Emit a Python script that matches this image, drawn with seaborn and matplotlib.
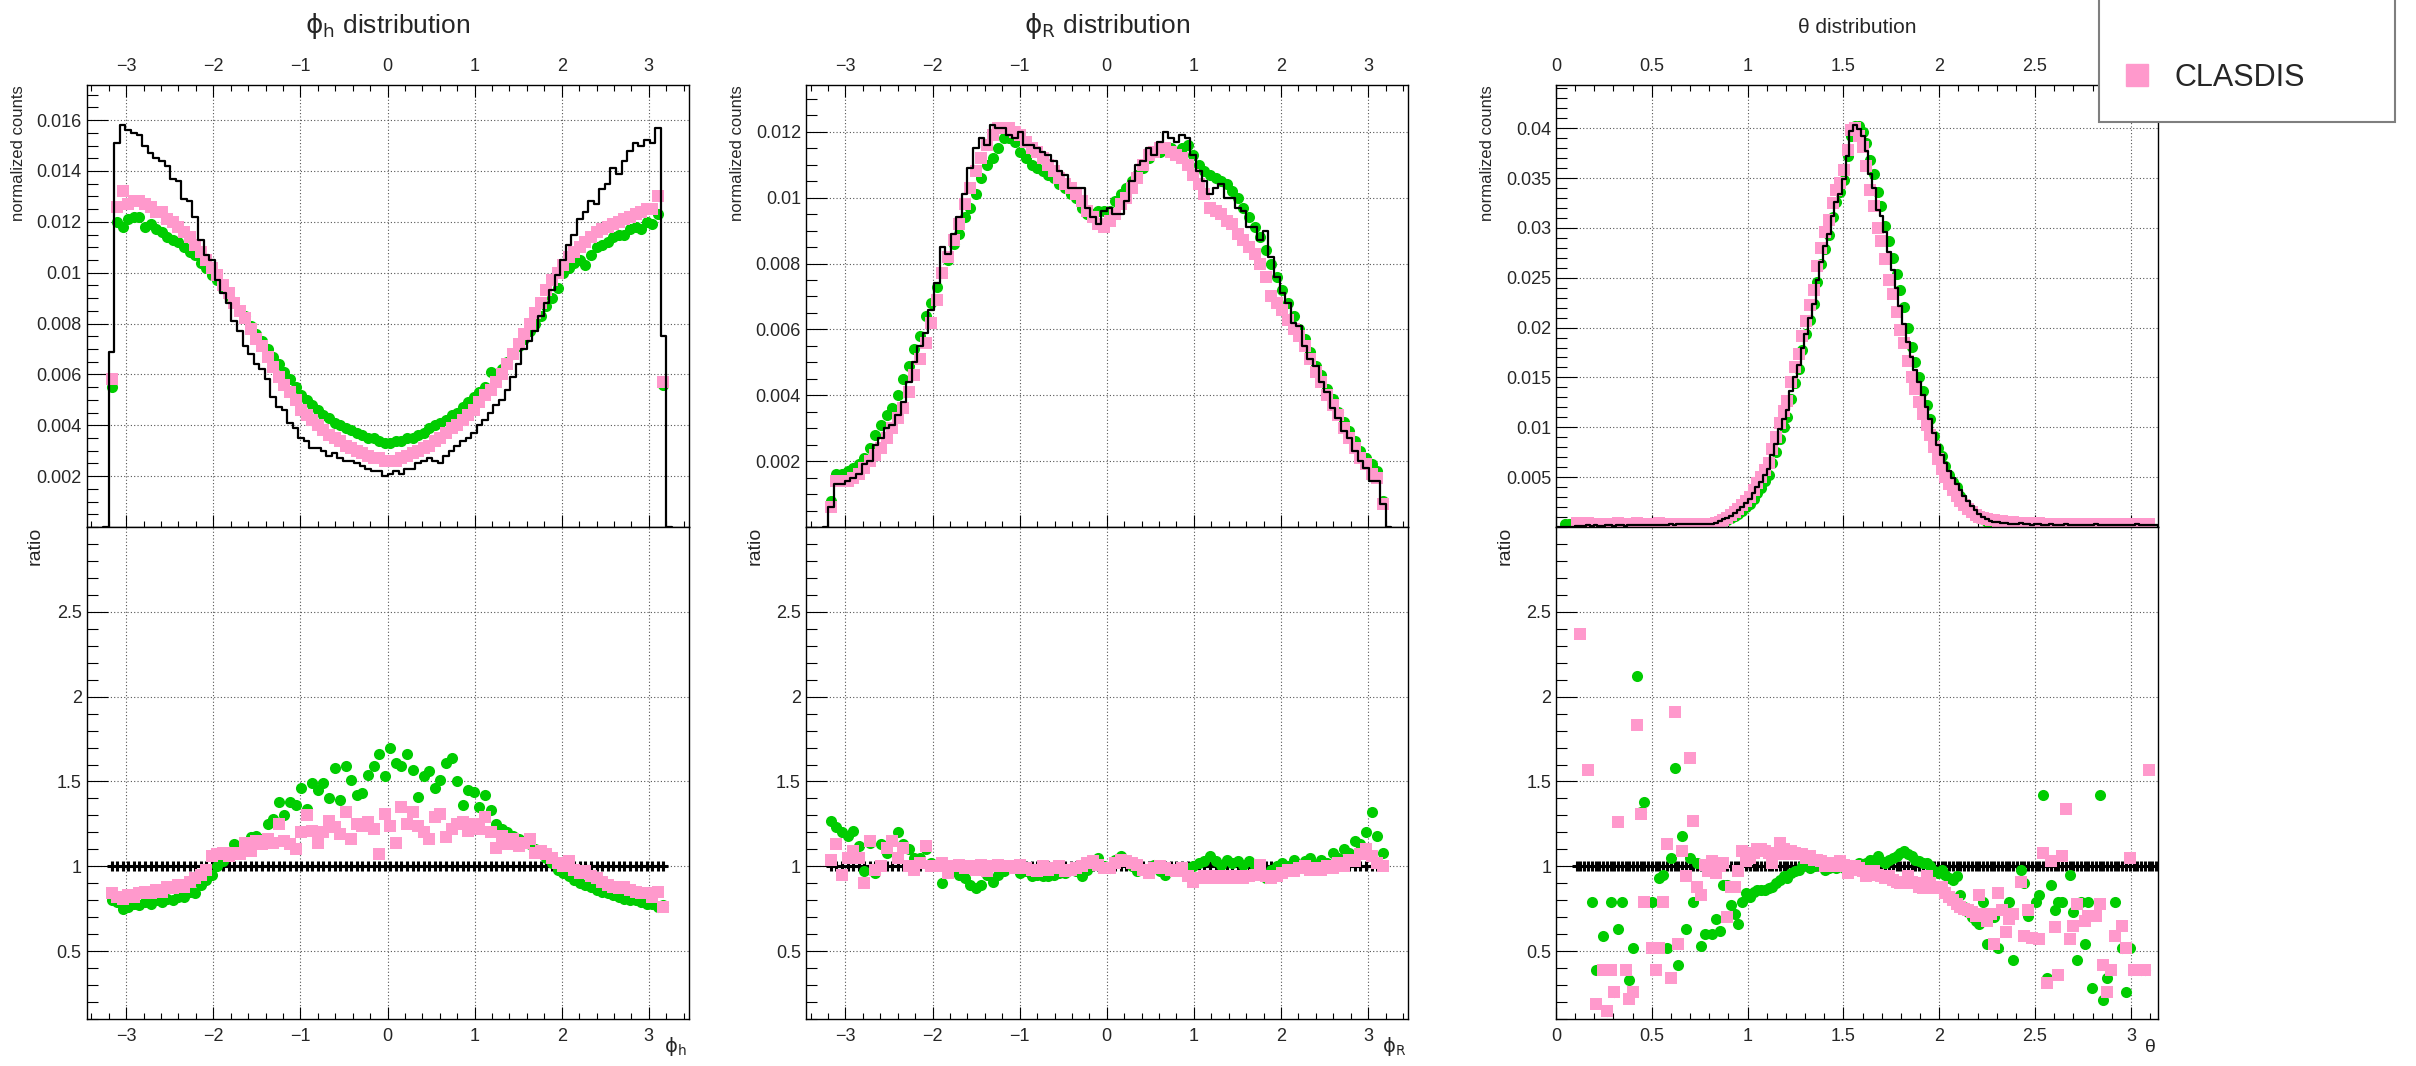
"""Recreate the phi_h / phi_R / theta comparison panels (top: normalized counts, bottom: ratio)."""

import matplotlib

matplotlib.use("Agg")
import matplotlib.pyplot as plt
import numpy as np
import pandas as pd
import seaborn as sns
from matplotlib.lines import Line2D
from matplotlib.patches import Rectangle
from matplotlib.ticker import FixedLocator, FuncFormatter, MultipleLocator

NA = np.nan
GREEN = "#00cc00"
PINK = "#ff99cc"

# ---------------------------------------------------------------- phi_h (100 bins, -3.2..3.2)
PHI_H_REF = [
    0.0069, 0.0151, 0.0158, 0.0156, 0.0155, 0.0154, 0.0150, 0.0147, 0.0145, 0.0144,
    0.0142, 0.0137, 0.0136, 0.0129, 0.0128, 0.0122, 0.0113, 0.0107, 0.0105, 0.0097,
    0.0092, 0.0088, 0.0081, 0.0077, 0.0071, 0.0068, 0.0064, 0.0062, 0.0058, 0.0051,
    0.0047, 0.0046, 0.0041, 0.0039, 0.0035, 0.0034, 0.0031, 0.0031, 0.0030, 0.0028,
    0.0029, 0.0027, 0.0026, 0.0026, 0.0025, 0.0024, 0.0023, 0.0022, 0.0022, 0.0020,
    0.0021, 0.0022, 0.0021, 0.0023, 0.0023, 0.0025, 0.0026, 0.0027, 0.0026, 0.0025,
    0.0028, 0.0030, 0.0032, 0.0034, 0.0035, 0.0037, 0.0040, 0.0042, 0.0045, 0.0048,
    0.0050, 0.0054, 0.0059, 0.0064, 0.0070, 0.0073, 0.0077, 0.0083, 0.0088, 0.0093,
    0.0099, 0.0105, 0.0111, 0.0115, 0.0121, 0.0124, 0.0128, 0.0127, 0.0133, 0.0135,
    0.0141, 0.0139, 0.0144, 0.0148, 0.0151, 0.0150, 0.0152, 0.0151, 0.0157, 0.0075,
]
PHI_H_GREEN = [
    0.0055, 0.0120, 0.0118, 0.0121, 0.0122, 0.0122, 0.0118, 0.0119, 0.0117, 0.0116,
    0.0114, 0.0113, 0.0112, 0.0110, 0.0108, 0.0107, 0.0104, 0.0102, 0.0099, 0.0097,
    0.0094, 0.0091, 0.0088, 0.0085, 0.0083, 0.0079, 0.0076, 0.0073, 0.0070, 0.0067,
    0.0064, 0.0061, 0.0058, 0.0055, 0.0052, 0.0050, 0.0048, 0.0046, 0.0044, 0.0043,
    0.0041, 0.0040, 0.0039, 0.0038, 0.0037, 0.0036, 0.0035, 0.0035, 0.0034, 0.0033,
    0.0033, 0.0034, 0.0034, 0.0035, 0.0035, 0.0036, 0.0037, 0.0039, 0.0040, 0.0041,
    0.0042, 0.0044, 0.0045, 0.0047, 0.0049, 0.0051, 0.0053, 0.0055, 0.0061, 0.0060,
    0.0062, 0.0065, 0.0068, 0.0071, 0.0074, 0.0077, 0.0080, 0.0083, 0.0087, 0.0090,
    0.0094, 0.0100, 0.0102, 0.0104, 0.0105, 0.0103, 0.0107, 0.0110, 0.0111, 0.0112,
    0.0114, 0.0115, 0.0115, 0.0117, 0.0118, 0.0117, 0.0120, 0.0119, 0.0123, 0.0056,
]
PHI_H_PINK = [
    0.0058, 0.0126, 0.0132, 0.0127, 0.0128, 0.0128, 0.0127, 0.0126, 0.0124, 0.0124,
    0.0121, 0.0120, 0.0118, 0.0116, 0.0114, 0.0111, 0.0108, 0.0105, 0.0102, 0.0099,
    0.0095, 0.0092, 0.0088, 0.0085, 0.0082, 0.0078, 0.0074, 0.0071, 0.0067, 0.0063,
    0.0059, 0.0056, 0.0053, 0.0050, 0.0046, 0.0044, 0.0042, 0.0040, 0.0038, 0.0036,
    0.0035, 0.0034, 0.0032, 0.0031, 0.0030, 0.0029, 0.0028, 0.0027, 0.0027, 0.0026,
    0.0026, 0.0026, 0.0027, 0.0028, 0.0029, 0.0030, 0.0031, 0.0032, 0.0034, 0.0035,
    0.0037, 0.0039, 0.0040, 0.0042, 0.0044, 0.0046, 0.0049, 0.0052, 0.0054, 0.0057,
    0.0060, 0.0064, 0.0068, 0.0072, 0.0076, 0.0080, 0.0084, 0.0088, 0.0093, 0.0097,
    0.0100, 0.0103, 0.0106, 0.0108, 0.0110, 0.0112, 0.0114, 0.0116, 0.0117, 0.0118,
    0.0119, 0.0120, 0.0121, 0.0122, 0.0123, 0.0124, 0.0125, 0.0125, 0.0130, 0.0057,
]
PHI_H_GREEN_RATIO = [
    0.80, 0.79, 0.75, 0.76, 0.78, 0.77, 0.79, 0.78, 0.80, 0.79,
    0.81, 0.80, 0.82, 0.82, 0.85, 0.84, 0.89, 0.92, 0.95, 1.00,
    1.03, 1.07, 1.13, 1.10, 1.12, 1.17, 1.18, 1.16, 1.25, 1.28,
    1.38, 1.30, 1.38, 1.36, 1.46, 1.34, 1.49, 1.45, 1.49, 1.40,
    1.58, 1.39, 1.59, 1.51, 1.42, 1.43, 1.54, 1.59, 1.66, 1.53,
    1.70, 1.61, 1.59, 1.66, 1.57, 1.41, 1.53, 1.56, 1.46, 1.51,
    1.61, 1.64, 1.50, 1.36, 1.45, 1.44, 1.35, 1.42, 1.33, 1.25,
    1.22, 1.20, 1.18, 1.16, 1.15, 1.13, 1.10, 1.08, 1.05, 1.02,
    0.98, 0.96, 0.94, 0.92, 0.90, 0.89, 0.88, 0.86, 0.85, 0.84,
    0.83, 0.82, 0.81, 0.80, 0.80, 0.79, 0.78, 0.78, 0.76, 0.77,
]
PHI_H_PINK_RATIO = [
    0.84, 0.82, 0.81, 0.83, 0.82, 0.84, 0.85, 0.84, 0.86, 0.85,
    0.88, 0.87, 0.89, 0.88, 0.91, 0.93, 0.95, 0.98, 1.06, 1.07,
    1.08, 1.06, 1.08, 1.07, 1.14, 1.09, 1.15, 1.13, 1.16, 1.14,
    1.25, 1.15, 1.13, 1.10, 1.20, 1.30, 1.21, 1.14, 1.20, 1.27,
    1.23, 1.19, 1.32, 1.16, 1.25, 1.24, 1.26, 1.22, 1.07, 1.31,
    1.24, 1.14, 1.35, 1.25, 1.32, 1.24, 1.20, 1.16, 1.29, 1.31,
    1.17, 1.22, 1.25, 1.26, 1.21, 1.25, 1.22, 1.29, 1.20, 1.11,
    1.18, 1.13, 1.16, 1.12, 1.14, 1.16, 1.08, 1.09, 1.07, 1.05,
    1.02, 1.00, 1.03, 0.98, 0.96, 0.97, 0.94, 0.93, 0.91, 0.89,
    0.88, 0.87, 0.88, 0.86, 0.85, 0.84, 0.84, 0.82, 0.85, 0.76,
]

# ---------------------------------------------------------------- phi_R (100 bins, -3.2..3.2)
PHI_R_REF = [
    0.0006, 0.0013, 0.0013, 0.0014, 0.0015, 0.0016, 0.0019, 0.0020, 0.0025, 0.0027,
    0.0030, 0.0031, 0.0034, 0.0038, 0.0044, 0.0050, 0.0055, 0.0059, 0.0066, 0.0074,
    0.0085, 0.0083, 0.0089, 0.0094, 0.0101, 0.0109, 0.0115, 0.0118, 0.0116, 0.0122,
    0.0121, 0.0121, 0.0119, 0.0118, 0.0120, 0.0116, 0.0116, 0.0115, 0.0114, 0.0113,
    0.0111, 0.0108, 0.0107, 0.0103, 0.0103, 0.0103, 0.0097, 0.0094, 0.0092, 0.0096,
    0.0097, 0.0095, 0.0095, 0.0099, 0.0105, 0.0110, 0.0111, 0.0115, 0.0113, 0.0117,
    0.0120, 0.0118, 0.0117, 0.0119, 0.0118, 0.0113, 0.0108, 0.0105, 0.0101, 0.0103,
    0.0104, 0.0100, 0.0100, 0.0097, 0.0096, 0.0091, 0.0091, 0.0087, 0.0090, 0.0082,
    0.0076, 0.0071, 0.0068, 0.0062, 0.0061, 0.0055, 0.0051, 0.0049, 0.0044, 0.0041,
    0.0036, 0.0033, 0.0029, 0.0027, 0.0023, 0.0020, 0.0018, 0.0014, 0.0014, 0.0007,
]
PHI_R_GREEN = [
    0.0008, 0.0016, 0.0016, 0.0017, 0.0018, 0.0019, 0.0021, 0.0024, 0.0028, 0.0031,
    0.0034, 0.0036, 0.0040, 0.0045, 0.0049, 0.0054, 0.0058, 0.0064, 0.0068, 0.0073,
    0.0077, 0.0081, 0.0086, 0.0089, 0.0094, 0.0097, 0.0101, 0.0106, 0.0110, 0.0112,
    0.0115, 0.0118, 0.0118, 0.0117, 0.0114, 0.0112, 0.0110, 0.0109, 0.0108, 0.0107,
    0.0106, 0.0104, 0.0103, 0.0101, 0.0100, 0.0097, 0.0095, 0.0095, 0.0096, 0.0096,
    0.0096, 0.0099, 0.0101, 0.0103, 0.0105, 0.0107, 0.0109, 0.0112, 0.0114, 0.0114,
    0.0115, 0.0115, 0.0114, 0.0115, 0.0116, 0.0113, 0.0110, 0.0108, 0.0107, 0.0106,
    0.0105, 0.0104, 0.0102, 0.0100, 0.0097, 0.0094, 0.0091, 0.0088, 0.0084, 0.0080,
    0.0076, 0.0072, 0.0068, 0.0064, 0.0060, 0.0057, 0.0053, 0.0049, 0.0046, 0.0042,
    0.0039, 0.0035, 0.0032, 0.0029, 0.0026, 0.0023, 0.0021, 0.0019, 0.0017, 0.0008,
]
PHI_R_PINK = [
    0.0006, 0.0014, 0.0014, 0.0014, 0.0015, 0.0016, 0.0018, 0.0020, 0.0022, 0.0024,
    0.0027, 0.0030, 0.0033, 0.0036, 0.0041, 0.0046, 0.0051, 0.0056, 0.0062, 0.0069,
    0.0077, 0.0082, 0.0087, 0.0092, 0.0098, 0.0103, 0.0108, 0.0112, 0.0116, 0.0119,
    0.0121, 0.0121, 0.0121, 0.0120, 0.0119, 0.0117, 0.0115, 0.0114, 0.0112, 0.0110,
    0.0108, 0.0106, 0.0104, 0.0103, 0.0101, 0.0099, 0.0096, 0.0094, 0.0092, 0.0091,
    0.0093, 0.0095, 0.0098, 0.0100, 0.0103, 0.0106, 0.0110, 0.0113, 0.0114, 0.0115,
    0.0115, 0.0114, 0.0113, 0.0112, 0.0110, 0.0107, 0.0104, 0.0101, 0.0097, 0.0096,
    0.0095, 0.0093, 0.0092, 0.0089, 0.0087, 0.0085, 0.0083, 0.0080, 0.0076, 0.0070,
    0.0068, 0.0066, 0.0063, 0.0060, 0.0058, 0.0055, 0.0051, 0.0047, 0.0044, 0.0040,
    0.0037, 0.0034, 0.0030, 0.0027, 0.0024, 0.0021, 0.0019, 0.0016, 0.0015, 0.0007,
]
PHI_R_GREEN_RATIO = [
    1.27, 1.23, 1.20, 1.18, 1.21, 1.12, 0.97, 1.14, 0.96, 1.13,
    1.08, 1.15, 1.20, 1.13, 1.10, 1.05, 1.05, 1.10, 1.02, 1.00,
    0.90, 0.98, 0.97, 0.95, 0.93, 0.89, 0.87, 0.89, 0.95, 0.91,
    0.95, 0.97, 0.99, 1.00, 0.96, 0.97, 0.94, 0.95, 0.94, 0.94,
    0.95, 0.96, 0.96, 0.98, 0.97, 0.94, 0.98, 1.01, 1.05, 1.00,
    0.99, 1.04, 1.06, 1.04, 1.00, 0.97, 0.98, 0.97, 1.01, 0.97,
    0.95, 0.97, 0.98, 0.97, 0.99, 1.00, 1.02, 1.03, 1.06, 1.03,
    1.01, 1.04, 1.02, 1.03, 1.01, 1.03, 1.00, 1.01, 0.93, 0.98,
    1.00, 1.02, 1.00, 1.04, 0.99, 1.03, 1.05, 1.01, 1.04, 1.02,
    1.08, 1.05, 1.10, 1.08, 1.15, 1.13, 1.20, 1.32, 1.18, 1.08,
]
PHI_R_PINK_RATIO = [
    1.04, 1.13, 0.95, 1.05, 1.09, 1.05, 0.90, 1.15, 0.98, 1.00,
    1.11, 1.15, 1.05, 1.11, 1.00, 0.98, 1.02, 1.12, 1.00, 1.00,
    1.02, 0.96, 1.00, 1.01, 0.99, 1.00, 0.98, 1.01, 0.97, 1.00,
    1.01, 1.00, 1.00, 0.99, 1.01, 0.99, 0.98, 0.97, 1.00, 0.98,
    0.99, 1.00, 0.97, 0.98, 0.99, 1.00, 1.02, 1.03, 1.01, 0.99,
    0.99, 1.02, 1.04, 1.03, 1.02, 1.01, 0.98, 0.96, 0.99, 1.00,
    0.99, 0.98, 0.97, 0.99, 0.94, 0.91, 0.93, 0.94, 0.93, 0.94,
    0.93, 0.94, 0.93, 0.94, 0.93, 0.94, 0.95, 1.01, 0.94, 0.93,
    0.94, 0.96, 0.98, 0.97, 0.99, 1.00, 0.98, 0.99, 0.98, 1.00,
    0.99, 1.02, 1.00, 1.04, 1.03, 1.07, 1.10, 1.06, 1.02, 1.00,
]

# ---------------------------------------------------------------- theta (160 bins, 0..pi)
THETA_REF = [
    0, 0, 0, 0, 0, 0.0001, 0.0001, 0.0001, 0.0002, 0.0001,
    0.0002, 0.0001, 0.0001, 0.0002, 0.0002, 0.0001, 0.0002, 0.0002, 0.0001, 0.0002,
    0.0002, 0.0002, 0.0002, 0.0002, 0.0002, 0.0002, 0.0002, 0.0002, 0.0002, 0.0002,
    0.0003, 0.0002, 0.0003, 0.0003, 0.0003, 0.0003, 0.0003, 0.0003, 0.0003, 0.0003,
    0.0003, 0.0003, 0.0004, 0.0006, 0.0008, 0.0009, 0.0011, 0.0014, 0.0017, 0.0020,
    0.0024, 0.0028, 0.0034, 0.0040, 0.0045, 0.0052, 0.0058, 0.0072, 0.0083, 0.0098,
    0.0108, 0.0117, 0.0136, 0.0150, 0.0162, 0.0180, 0.0194, 0.0210, 0.0224, 0.0248,
    0.0266, 0.0282, 0.0294, 0.0312, 0.0326, 0.0334, 0.0349, 0.0372, 0.0397, 0.0403,
    0.0399, 0.0392, 0.0377, 0.0354, 0.0340, 0.0318, 0.0312, 0.0296, 0.0276, 0.0258,
    0.0240, 0.0222, 0.0204, 0.0186, 0.0170, 0.0157, 0.0145, 0.0132, 0.0120, 0.0108,
    0.0094, 0.0082, 0.0072, 0.0064, 0.0056, 0.0049, 0.0043, 0.0037, 0.0031, 0.0026,
    0.0021, 0.0017, 0.0013, 0.0010, 0.0008, 0.0006, 0.0005, 0.0005, 0.0004, 0.0004,
    0.0003, 0.0003, 0.0003, 0.0004, 0.0003, 0.0003, 0.0002, 0.0003, 0.0003, 0.0002,
    0.0002, 0.0003, 0.0002, 0.0002, 0.0002, 0.0003, 0.0002, 0.0002, 0.0002, 0.0002,
    0.0002, 0.0002, 0.0002, 0.0003, 0.0002, 0.0002, 0.0002, 0.0002, 0.0002, 0.0002,
    0.0002, 0.0002, 0.0002, 0.0002, 0.0003, 0.0002, 0.0002, 0.0002, 0.0002, 0.0002,
]
THETA_GREEN = [
    NA, NA, 0.0003, 0.0003, 0.0003, 0.0003, 0.0002, 0.0002, 0.0002, 0.0002,
    0.0002, 0.0002, 0.0002, 0.0002, 0.0002, 0.0002, 0.0002, 0.0002, 0.0002, 0.0002,
    0.0002, 0.0002, 0.0002, 0.0002, 0.0002, 0.0002, 0.0002, 0.0002, 0.0002, 0.0002,
    0.0002, 0.0002, 0.0002, 0.0003, 0.0002, 0.0003, 0.0003, 0.0003, 0.0003, 0.0003,
    0.0003, 0.0003, 0.0003, 0.0004, 0.0006, 0.0007, 0.0009, 0.0011, 0.0013, 0.0016,
    0.0020, 0.0023, 0.0028, 0.0034, 0.0039, 0.0046, 0.0052, 0.0064, 0.0075, 0.0088,
    0.0100, 0.0110, 0.0128, 0.0144, 0.0158, 0.0178, 0.0194, 0.0208, 0.0224, 0.0246,
    0.0264, 0.0279, 0.0293, 0.0311, 0.0326, 0.0336, 0.0348, 0.0372, 0.0392, 0.0402,
    0.0402, 0.0396, 0.0385, 0.0368, 0.0354, 0.0336, 0.0322, 0.0302, 0.0287, 0.0270,
    0.0254, 0.0238, 0.0221, 0.0200, 0.0181, 0.0165, 0.0150, 0.0136, 0.0122, 0.0108,
    0.0091, 0.0079, 0.0071, 0.0061, 0.0052, 0.0045, 0.0040, 0.0031, 0.0024, 0.0019,
    0.0015, 0.0012, 0.0009, 0.0008, 0.0005, 0.0004, 0.0004, 0.0003, 0.0003, 0.0003,
    0.0003, 0.0002, 0.0002, 0.0003, 0.0003, 0.0002, 0.0002, 0.0002, 0.0002, 0.0002,
    0.0002, 0.0002, 0.0002, 0.0002, 0.0002, 0.0002, 0.0002, 0.0002, 0.0002, 0.0002,
    0.0002, 0.0002, 0.0002, 0.0002, 0.0002, 0.0002, 0.0002, 0.0002, 0.0002, 0.0002,
    0.0002, 0.0002, 0.0002, 0.0002, 0.0002, 0.0002, 0.0002, NA, NA, NA,
]
THETA_PINK = [
    NA, NA, NA, NA, NA, 0.0004, 0.0004, 0.0003, 0.0004, 0.0003,
    0.0003, 0.0003, 0.0003, 0.0003, 0.0003, 0.0003, 0.0004, 0.0003, 0.0003, 0.0003,
    0.0003, 0.0004, 0.0003, 0.0003, 0.0003, 0.0003, 0.0003, 0.0004, 0.0003, 0.0003,
    0.0003, 0.0003, 0.0003, 0.0003, 0.0003, 0.0003, 0.0003, 0.0003, 0.0003, 0.0003,
    0.0003, 0.0003, 0.0004, 0.0005, 0.0007, 0.0009, 0.0012, 0.0015, 0.0018, 0.0022,
    0.0026, 0.0030, 0.0037, 0.0044, 0.0050, 0.0057, 0.0064, 0.0078, 0.0090, 0.0104,
    0.0116, 0.0126, 0.0145, 0.0160, 0.0174, 0.0192, 0.0207, 0.0223, 0.0238, 0.0262,
    0.0280, 0.0296, 0.0308, 0.0325, 0.0338, 0.0345, 0.0358, 0.0378, 0.0398, 0.0400,
    0.0392, 0.0381, 0.0362, 0.0338, 0.0322, 0.0300, 0.0287, 0.0269, 0.0248, 0.0234,
    0.0216, 0.0198, 0.0185, 0.0166, 0.0150, 0.0138, 0.0125, 0.0113, 0.0102, 0.0092,
    0.0080, 0.0068, 0.0058, 0.0050, 0.0043, 0.0037, 0.0031, 0.0026, 0.0022, 0.0018,
    0.0015, 0.0012, 0.0010, 0.0009, 0.0008, 0.0007, 0.0007, 0.0006, 0.0006, 0.0005,
    0.0005, 0.0005, 0.0004, 0.0004, 0.0004, 0.0004, 0.0004, 0.0003, 0.0004, 0.0003,
    0.0003, 0.0003, 0.0003, 0.0003, 0.0003, 0.0003, 0.0003, 0.0003, 0.0003, 0.0003,
    0.0003, 0.0003, 0.0003, 0.0003, 0.0003, 0.0003, 0.0003, 0.0003, 0.0003, 0.0003,
    0.0003, 0.0003, 0.0003, 0.0003, 0.0003, 0.0003, 0.0003, 0.0003, NA, NA,
]
THETA_GREEN_RATIO = [
    NA, NA, NA, NA, NA, NA, NA, NA, NA, 0.79,
    0.39, NA, 0.59, 0.15, 0.79, 0.26, 0.63, 0.79, 0.39, 0.33,
    0.52, 2.12, 1.32, 1.38, NA, 0.79, NA, 0.93, 0.95, 0.52,
    1.05, 1.58, 0.42, 1.18, 0.63, 1.05, 0.79, 1.02, 0.53, 0.60,
    NA, 0.60, 0.69, 0.62, 0.89, 0.89, 0.77, 0.72, 0.66, 0.79,
    0.84, 0.82, 0.85, 0.86, 0.86, 0.86, 0.87, 0.88, 0.90, 0.92,
    0.94, 0.93, 0.96, 0.97, 0.98, 1.00, 1.01, 0.99, 1.00, 1.01,
    1.00, 0.98, 0.99, 1.00, 0.99, 1.00, 0.99, 1.00, 1.01, 1.01,
    1.02, 1.01, 1.02, 1.04, 1.04, 1.06, 1.03, 1.02, 1.04, 1.05,
    1.06, 1.08, 1.09, 1.07, 1.06, 1.04, 1.03, 1.02, 1.02, 1.00,
    0.97, 0.96, 0.98, 0.95, 0.93, 0.92, 0.94, 0.83, 0.76, 0.73,
    0.70, 0.68, 0.66, 0.79, 0.54, NA, 0.70, 0.52, 0.75, NA,
    0.79, 0.45, NA, 0.98, 0.90, 0.71, NA, 0.79, 0.83, 1.42,
    0.34, 0.89, 0.74, 0.79, 0.79, NA, 0.95, 0.73, 0.45, 0.79,
    0.54, 0.79, 0.28, NA, 1.42, 0.21, 0.34, NA, 0.79, NA,
    0.52, 0.26, 0.52, NA, NA, 0.39, 0.39, NA, NA, NA,
]
THETA_PINK_RATIO = [
    NA, NA, NA, NA, NA, NA, 2.37, NA, 1.57, NA,
    0.19, NA, 0.39, 0.15, 0.39, 0.26, 1.26, NA, 0.39, 0.22,
    0.26, 1.83, 1.31, 0.79, NA, 0.52, 0.39, 0.52, 0.79, 1.13,
    0.34, 1.91, 0.54, 1.09, 0.94, 1.64, 1.27, 0.88, 0.83, 1.01,
    0.97, 1.03, 0.96, 1.00, 1.02, 0.70, 0.88, 0.88, 0.97, 1.09,
    1.03, 1.05, 1.08, 1.10, 1.10, 1.09, 1.08, 1.02, 1.07, 1.14,
    1.10, 1.07, 1.09, 1.08, 1.07, 1.07, 1.05, 1.06, 1.04, 1.04,
    1.03, 1.00, 1.02, 1.01, 1.00, 1.03, 1.01, 0.96, 0.98, 1.00,
    0.99, 0.97, 0.94, 0.96, 0.97, 0.95, 0.94, 0.93, 0.94, 0.92,
    0.91, 0.90, 0.90, 0.94, 0.91, 0.90, 0.88, 0.87, 0.94, 0.90,
    0.87, 0.88, 0.88, 0.84, 0.82, 0.80, 0.78, 0.76, 0.75, 0.74,
    0.73, 0.71, 0.83, 0.72, 0.68, 0.72, 0.54, 0.84, 0.74, 0.61,
    0.69, 0.72, NA, 0.91, 0.59, 0.74, 0.58, NA, 0.57, 1.08,
    0.31, 1.03, 0.64, 0.36, 1.06, 1.34, 0.57, 0.65, 0.78, NA,
    0.68, 0.71, NA, 0.71, 0.78, 0.42, 0.26, 0.39, 0.59, NA,
    0.65, 0.52, 1.05, 0.39, 0.39, NA, 0.39, 1.57, NA, NA,
]

PANELS = [
    {
        "title": r"$\mathrm{\phi_{h}}$ distribution", "title_size": 19,
        "xlabel": r"$\mathrm{\phi_{h}}$",
        "range": (-3.2, 3.2, 100), "xlim": (-1.1 * np.pi, 1.1 * np.pi),
        "xmajor": [-3, -2, -1, 0, 1, 2, 3], "xminor": 0.2,
        "ymajor": [0.002, 0.004, 0.006, 0.008, 0.010, 0.012, 0.014, 0.016], "yminor": 0.0005,
        "ref": PHI_H_REF, "green": PHI_H_GREEN, "pink": PHI_H_PINK,
        "green_ratio": PHI_H_GREEN_RATIO, "pink_ratio": PHI_H_PINK_RATIO,
    },
    {
        "title": r"$\mathrm{\phi_{R}}$ distribution", "title_size": 19,
        "xlabel": r"$\mathrm{\phi_{R}}$",
        "range": (-3.2, 3.2, 100), "xlim": (-1.1 * np.pi, 1.1 * np.pi),
        "xmajor": [-3, -2, -1, 0, 1, 2, 3], "xminor": 0.2,
        "ymajor": [0.002, 0.004, 0.006, 0.008, 0.010, 0.012], "yminor": 0.0005,
        "ref": PHI_R_REF, "green": PHI_R_GREEN, "pink": PHI_R_PINK,
        "green_ratio": PHI_R_GREEN_RATIO, "pink_ratio": PHI_R_PINK_RATIO,
    },
    {
        "title": "θ distribution", "title_size": 15, "xlabel": "θ",
        "range": (0.0, np.pi, 160), "xlim": (0.0, np.pi),
        "xmajor": [0, 0.5, 1, 1.5, 2, 2.5, 3], "xminor": 0.1,
        "ymajor": [0.005, 0.010, 0.015, 0.020, 0.025, 0.030, 0.035, 0.040], "yminor": 0.001,
        "ref": THETA_REF, "green": THETA_GREEN, "pink": THETA_PINK,
        "green_ratio": THETA_GREEN_RATIO, "pink_ratio": THETA_PINK_RATIO,
    },
]

RATIO_MAJOR = [0.5, 1.0, 1.5, 2.0, 2.5]

# layout in pixels of the 2416x1066 canvas
FIG_W, FIG_H = 2416, 1066
COL_LEFT = [86.5, 805.8, 1556.0]
COL_WIDTH = 602.0
TOP_Y0, SPLIT_Y, BOTTOM_Y = 85.0, 527.0, 1019.0

CIRCLE_S = 64
SQUARE_S = 64


def fx(px):
    return px / FIG_W


def fy(py):
    return 1.0 - py / FIG_H


def fmt_num(value, _pos=None):
    return f"{value:g}".replace("-", "\u2212")


def style_axes(ax, spec, ymajor, yminor, top_panel):
    ax.xaxis.set_major_locator(FixedLocator(spec["xmajor"]))
    ax.xaxis.set_minor_locator(MultipleLocator(spec["xminor"]))
    ax.yaxis.set_major_locator(FixedLocator(ymajor))
    ax.yaxis.set_minor_locator(MultipleLocator(yminor))
    ax.xaxis.set_major_formatter(FuncFormatter(fmt_num))
    ax.yaxis.set_major_formatter(FuncFormatter(fmt_num))
    ax.tick_params(which="both", direction="in", color="black", labelsize=13)
    ax.tick_params(axis="x", which="major", length=8.5, width=0.8)
    ax.tick_params(axis="x", which="minor", length=4.3, width=0.8)
    ax.tick_params(axis="y", which="major", length=15, width=0.8, pad=3.5)
    ax.tick_params(axis="y", which="minor", length=8, width=0.8)
    ax.tick_params(axis="y", which="both", left=True, right=False)
    if top_panel:
        ax.tick_params(axis="x", which="both", top=True, bottom=True,
                       labeltop=True, labelbottom=False, pad=7)
    else:
        ax.tick_params(axis="x", which="both", top=False, bottom=True,
                       labeltop=False, labelbottom=True, pad=6.5)
    ax.grid(True, which="major", linestyle=(0, (1, 2)), color="#555555", linewidth=0.8)
    ax.set_axisbelow(True)
    for spine in ax.spines.values():
        spine.set_color("black")
        spine.set_linewidth(1.0)
    ax.set_xlabel("")
    ax.set_ylabel("")


def draw_column(fig, left, spec):
    lo, hi, nbins = spec["range"]
    edges = np.linspace(lo, hi, nbins + 1)
    width = edges[1] - edges[0]
    centers = 0.5 * (edges[:-1] + edges[1:])
    padded = [lo - width] + edges.tolist() + [hi + width]

    df = pd.DataFrame({
        "x": centers,
        "ref": np.asarray(spec["ref"], dtype=float),
        "green": np.asarray(spec["green"], dtype=float),
        "pink": np.asarray(spec["pink"], dtype=float),
        "green_ratio": np.asarray(spec["green_ratio"], dtype=float),
        "pink_ratio": np.asarray(spec["pink_ratio"], dtype=float),
    })
    df["ref_ratio"] = np.where(df["ref"] > 0, 1.0, np.nan)

    ax_top = fig.add_axes([fx(left), fy(SPLIT_Y), COL_WIDTH / FIG_W, (SPLIT_Y - TOP_Y0) / FIG_H])
    ax_ratio = fig.add_axes([fx(left), fy(BOTTOM_Y), COL_WIDTH / FIG_W, (BOTTOM_Y - SPLIT_Y) / FIG_H])

    # top: normalized distributions
    sns.scatterplot(data=df, x="x", y="green", ax=ax_top, marker="o", s=CIRCLE_S,
                    color=GREEN, linewidth=0, zorder=3, legend=False)
    sns.scatterplot(data=df, x="x", y="pink", ax=ax_top, marker="s", s=SQUARE_S,
                    color=PINK, linewidth=0, zorder=4, legend=False)
    sns.histplot(data=df, x="x", weights="ref", bins=padded, element="step", fill=False,
                 color="black", linewidth=1.6, ax=ax_top, zorder=5)

    # bottom: ratio to the reference
    sns.scatterplot(data=df, x="x", y="ref_ratio", ax=ax_ratio, marker="+", s=48,
                    color="black", linewidth=2.2, zorder=2, legend=False)
    sns.scatterplot(data=df, x="x", y="green_ratio", ax=ax_ratio, marker="o", s=CIRCLE_S,
                    color=GREEN, linewidth=0, zorder=3, legend=False)
    sns.scatterplot(data=df, x="x", y="pink_ratio", ax=ax_ratio, marker="s", s=SQUARE_S,
                    color=PINK, linewidth=0, zorder=4, legend=False)

    ax_top.set_xlim(spec["xlim"])
    ax_top.set_ylim(0, 1.1 * df["ref"].max())
    ax_ratio.set_xlim(spec["xlim"])
    ax_ratio.set_ylim(0.1, 3.0)
    style_axes(ax_top, spec, spec["ymajor"], spec["yminor"], top_panel=True)
    style_axes(ax_ratio, spec, RATIO_MAJOR, 0.1, top_panel=False)

    centre = left + COL_WIDTH / 2
    fig.text(fx(centre), fy(33), spec["title"], ha="center", va="baseline",
             fontsize=spec["title_size"])
    fig.text(fx(left - 68), fy(TOP_Y0), "normalized counts", rotation=90,
             ha="center", va="top", fontsize=12)
    fig.text(fx(left - 51), fy(SPLIT_Y), "ratio", rotation=90,
             ha="center", va="top", fontsize=14)
    fig.text(fx(left + COL_WIDTH - 2), fy(1047), spec["xlabel"], ha="right",
             va="center", fontsize=14)


def main():
    sns.set_style("white")
    plt.rcParams["font.family"] = ["Liberation Sans", "DejaVu Sans"]
    plt.rcParams["mathtext.fontset"] = "dejavusans"

    fig = plt.figure(figsize=(FIG_W / 100, FIG_H / 100), dpi=100)
    fig.patch.set_facecolor("white")
    for left, spec in zip(COL_LEFT, PANELS):
        draw_column(fig, left, spec)

    # legend box (its top runs off the canvas)
    box = Rectangle((fx(2099), fy(121.7)), 296 / FIG_W, 200 / FIG_H,
                    transform=fig.transFigure, facecolor="white",
                    edgecolor="#7f7f7f", linewidth=1.5, zorder=10)
    fig.add_artist(box)
    fig.add_artist(Line2D([fx(2137)], [fy(75)], marker="s", markersize=16,
                          color=PINK, linestyle="none", transform=fig.transFigure,
                          zorder=11))
    fig.text(fx(2175), fy(86), "CLASDIS", ha="left", va="baseline", fontsize=22,
             zorder=11)

    fig.savefig("out.png", dpi=100)


if __name__ == "__main__":
    main()
